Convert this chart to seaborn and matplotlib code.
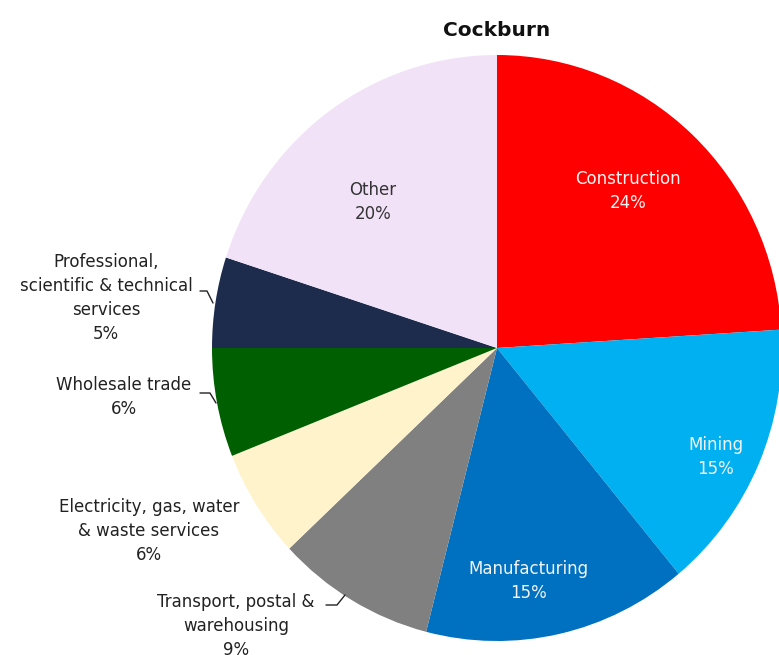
import matplotlib
matplotlib.use("Agg")
import matplotlib.pyplot as plt
import seaborn as sns

sns.set_theme(style="white")
plt.rcParams["font.family"] = ["DejaVu Sans"]

title = "Cockburn"
industries = [
    "Construction",
    "Mining",
    "Manufacturing",
    "Transport, postal &\nwarehousing",
    "Electricity, gas, water\n& waste services",
    "Wholesale trade",
    "Professional,\nscientific & technical\nservices",
    "Other",
]
shares = [24, 15, 15, 9, 6, 6, 5, 20]
colors = ["#FF0000", "#00B0F0", "#0070C0", "#808080",
          "#FFF3CC", "#005F00", "#1D2C4C", "#F2E2F8"]

W, H = 779, 655
# the pie is drawn slightly narrower than tall
RX, RY = 285, 293
K = RY / RX

fig = plt.figure(figsize=(W / 100, H / 100), dpi=100)
ax = fig.add_axes([0, 0, 1, 1])


def pt(x, y):
    """Convert top-left pixel coordinates to axes data coordinates."""
    return x * K, H - y


cx, cy = pt(497, 348)
ax.pie(shares, colors=colors, startangle=90, counterclock=False,
       center=(cx, cy), radius=RY, frame=True,
       wedgeprops=dict(linewidth=0))
ax.set_aspect("auto")
ax.set_xlim(0, W * K)
ax.set_ylim(0, H)
ax.axis("off")

labels = [f"{name}\n{v}%" for name, v in zip(industries, shares)]

# label anchor points and text colours per slice
label_pos = [(628, 191), (716, 457), (528, 581), (236, 626),
             (149, 531), (124, 397), (106, 298), (373, 202)]
label_color = ["#F4F4F4", "#F4F4F4", "#F4F4F4", "#222222",
               "#222222", "#222222", "#222222", "#333333"]

for lab, (x, y), c in zip(labels, label_pos, label_color):
    ax.text(*pt(x, y), lab, ha="center", va="center", fontsize=12,
            color=c, linespacing=1.42, clip_on=False)

# leader lines for the labels placed outside the pie
leaders = [
    [(200, 291), (207, 291), (213, 303)],
    [(200, 393), (210, 393), (216, 403)],
    [(326, 605), (337, 605), (345, 595)],
]
for seg in leaders:
    xs, ys = zip(*[pt(x, y) for x, y in seg])
    ax.plot(xs, ys, color="#222222", lw=1.0)

ax.text(*pt(497, 30), title, ha="center", va="center",
        fontsize=14.5, fontweight="bold", color="#111111")

fig.savefig("out.png", dpi=100, facecolor="white")
